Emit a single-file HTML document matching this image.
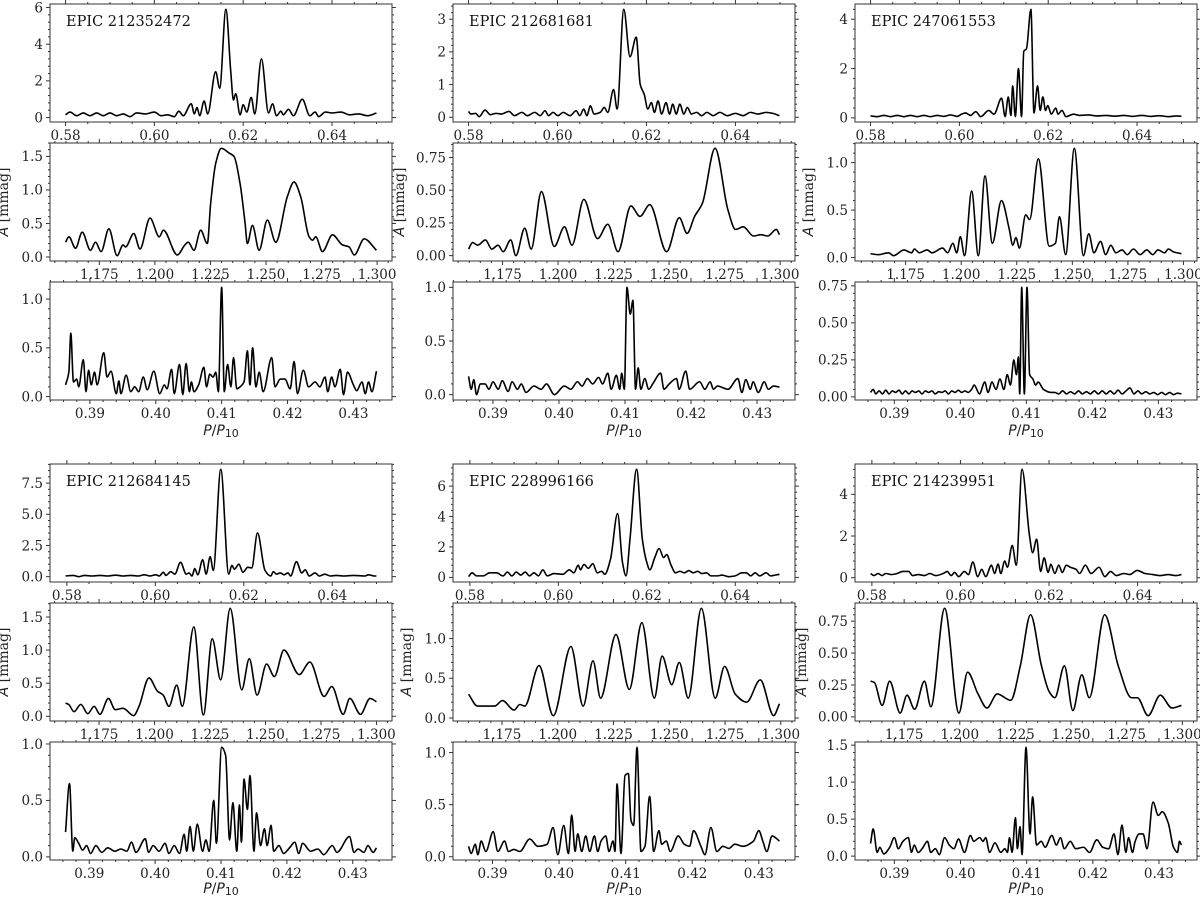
<!DOCTYPE html>
<html><head><meta charset="utf-8"><title>Periodogram panels</title>
<style>
html,body{margin:0;padding:0;background:#fff;}
svg{display:block;}
.tk{font-family:"DejaVu Serif","Liberation Serif",serif;font-size:13.5px;fill:#222;}
.ep{font-family:"DejaVu Serif","Liberation Serif",serif;font-size:14.5px;fill:#111;}
.al{font-family:"DejaVu Sans","Liberation Sans",sans-serif;font-size:14px;fill:#222;}
</style></head>
<body>
<svg id="fig" width="1200" height="897" viewBox="0 0 1200 897" xmlns="http://www.w3.org/2000/svg"></svg>
<script>
// ---------- data: x = P/P10, y = amplitude [mmag] ----------
const a1_x=[0.5800,0.5810,0.5825,0.5840,0.5855,0.5870,0.5885,0.5900,0.5915,0.5930,0.5945,0.5960,0.5980,0.6000,0.6015,0.6030,0.6045,0.6055,0.6065,0.6083,0.6090,0.6096,0.6102,0.6112,0.6120,0.6138,0.6147,0.6161,0.6172,0.6178,0.6183,0.6193,0.6200,0.6208,0.6218,0.6226,0.6241,0.6257,0.6266,0.6275,0.6285,0.6290,0.6302,0.6313,0.6333,0.6350,0.6362,0.6370,0.6385,0.6400,0.6420,0.6440,0.6460,0.6480,0.6500];
const a1_y=[0.15,0.3,0.1,0.25,0.1,0.25,0.1,0.25,0.1,0.2,0.05,0.25,0.2,0.3,0.1,0.15,0.05,0.35,0.1,0.75,0.2,0.55,0.1,0.9,0.2,2.5,1.6,5.9,2.5,0.95,1.3,0.15,0.7,0.3,1.1,0.2,3.2,0.25,0.75,0.1,0.35,0.15,0.45,0.1,1.0,0.1,0.3,0.05,0.3,0.25,0.3,0.15,0.2,0.1,0.25];
const a2_x=[1.1598,1.1613,1.1643,1.1673,1.1710,1.1733,1.1758,1.1793,1.1830,1.1857,1.1868,1.1905,1.1933,1.1978,1.2020,1.2038,1.2101,1.2135,1.2150,1.2176,1.2206,1.2236,1.2251,1.2274,1.2299,1.2334,1.2356,1.2383,1.2406,1.2416,1.2439,1.2469,1.2506,1.2544,1.2596,1.2626,1.2656,1.2694,1.2709,1.2724,1.2754,1.2799,1.2844,1.2874,1.2897,1.2942,1.2997];
const a2_y=[0.22,0.3,0.13,0.37,0.1,0.22,0.08,0.42,0.02,0.18,0.15,0.35,0.12,0.58,0.3,0.4,0.03,0.18,0.22,0.1,0.4,0.2,0.8,1.4,1.62,1.55,1.5,1.1,0.5,0.2,0.47,0.1,0.55,0.22,0.9,1.12,0.9,0.3,0.25,0.3,0.08,0.33,0.18,0.15,0.03,0.27,0.1];
const a3_x=[0.3863,0.3868,0.3871,0.3875,0.3880,0.3883,0.3890,0.3894,0.3898,0.3902,0.3907,0.3911,0.3921,0.3926,0.3932,0.3940,0.3944,0.3947,0.3955,0.3962,0.3968,0.3974,0.3981,0.3987,0.3997,0.4006,0.4013,0.4017,0.4024,0.4028,0.4036,0.4041,0.4046,0.4051,0.4054,0.4058,0.4065,0.4073,0.4077,0.4082,0.4087,0.4091,0.4095,0.4100,0.4104,0.4109,0.4114,0.4118,0.4123,0.4128,0.4134,0.4139,0.4143,0.4147,0.4152,0.4157,0.4163,0.4176,0.4181,0.4189,0.4196,0.4204,0.4210,0.4215,0.4224,0.4232,0.4242,0.4249,0.4257,0.4261,0.4267,0.4272,0.4280,0.4285,0.4291,0.4300,0.4305,0.4313,0.4318,0.4323,0.4328,0.4335];
const a3_y=[0.12,0.25,0.65,0.15,0.18,0.1,0.38,0.05,0.27,0.12,0.25,0.12,0.45,0.2,0.26,0.03,0.16,0.03,0.22,0.05,0.1,0.05,0.2,0.07,0.26,0.03,0.12,0.08,0.28,0.03,0.33,0.02,0.34,0.05,0.15,0.05,0.12,0.3,0.1,0.23,0.2,0.25,0.05,1.12,0.05,0.33,0.1,0.4,0.08,0.1,0.15,0.47,0.12,0.5,0.1,0.25,0.05,0.4,0.1,0.18,0.18,0.08,0.36,0.03,0.27,0.1,0.15,0.1,0.2,0.05,0.2,0.1,0.28,0.02,0.25,0.12,0.06,0.15,0.03,0.15,0.05,0.26];
const b1_x=[0.5800,0.5805,0.5816,0.5824,0.5837,0.5849,0.5862,0.5874,0.5891,0.5903,0.5920,0.5932,0.5949,0.5961,0.5972,0.5980,0.5990,0.6001,0.6013,0.6028,0.6042,0.6050,0.6059,0.6066,0.6074,0.6082,0.6096,0.6105,0.6113,0.6126,0.6134,0.6149,0.6163,0.6177,0.6186,0.6195,0.6203,0.6211,0.6218,0.6226,0.6234,0.6244,0.6252,0.6259,0.6267,0.6275,0.6284,0.6292,0.6301,0.6313,0.6324,0.6336,0.6350,0.6365,0.6382,0.6400,0.6417,0.6434,0.6451,0.6469,0.6484,0.6499];
const b1_y=[0.18,0.1,0.12,0.02,0.22,0.08,0.12,0.1,0.18,0.05,0.15,0.05,0.15,0.05,0.2,0.05,0.15,0.05,0.15,0.05,0.2,0.05,0.25,0.05,0.35,0.1,0.15,0.3,0.15,0.85,0.25,3.3,1.85,2.45,1.0,0.7,0.25,0.45,0.15,0.5,0.1,0.45,0.1,0.4,0.1,0.4,0.1,0.3,0.1,0.15,0.05,0.15,0.05,0.15,0.05,0.12,0.05,0.15,0.1,0.15,0.12,0.05];
const b2_x=[1.1597,1.1615,1.1638,1.1673,1.1702,1.1730,1.1753,1.1787,1.1810,1.1850,1.1879,1.1925,1.1983,1.2029,1.2063,1.2116,1.2178,1.2224,1.2270,1.2328,1.2369,1.2413,1.2489,1.2546,1.2581,1.2615,1.2650,1.2707,1.2765,1.2799,1.2834,1.2880,1.2914,1.2944,1.2983,1.2997];
const b2_y=[0.05,0.1,0.08,0.12,0.05,0.08,0.03,0.12,0.0,0.21,0.05,0.49,0.07,0.22,0.08,0.43,0.13,0.24,0.03,0.38,0.3,0.39,0.03,0.29,0.17,0.3,0.4,0.82,0.35,0.2,0.22,0.15,0.16,0.15,0.2,0.16];
const b3_x=[0.3863,0.3867,0.3871,0.3875,0.3881,0.3888,0.3894,0.3900,0.3908,0.3914,0.3923,0.3929,0.3937,0.3943,0.3950,0.3962,0.3973,0.3981,0.3993,0.4008,0.4018,0.4028,0.4035,0.4043,0.4051,0.4060,0.4066,0.4074,0.4079,0.4087,0.4092,0.4095,0.4099,0.4103,0.4108,0.4112,0.4116,0.4120,0.4124,0.4130,0.4136,0.4142,0.4154,0.4159,0.4167,0.4178,0.4182,0.4192,0.4198,0.4213,0.4221,0.4229,0.4234,0.4240,0.4256,0.4271,0.4277,0.4283,0.4290,0.4294,0.4302,0.4311,0.4317,0.4325,0.4334];
const b3_y=[0.17,0.05,0.14,0.0,0.1,0.1,0.05,0.12,0.05,0.13,0.03,0.12,0.05,0.1,0.02,0.08,0.05,0.1,0.0,0.08,0.05,0.12,0.08,0.15,0.1,0.16,0.1,0.2,0.05,0.18,0.05,0.2,0.05,1.0,0.75,0.88,0.05,0.25,0.05,0.15,0.05,0.1,0.2,0.05,0.1,0.15,0.05,0.22,0.05,0.12,0.05,0.12,0.05,0.08,0.05,0.15,0.02,0.14,0.05,0.12,0.02,0.12,0.05,0.08,0.07];
const c1_x=[0.5800,0.5815,0.5830,0.5845,0.5860,0.5875,0.5890,0.5905,0.5920,0.5935,0.5950,0.5965,0.5980,0.5995,0.6005,0.6014,0.6025,0.6037,0.6048,0.6066,0.6078,0.6095,0.6103,0.6110,0.6116,0.6120,0.6126,0.6133,0.6140,0.6145,0.6151,0.6161,0.6168,0.6176,0.6182,0.6188,0.6194,0.6199,0.6207,0.6217,0.6222,0.6231,0.6240,0.6257,0.6270,0.6290,0.6310,0.6330,0.6350,0.6370,0.6390,0.6410,0.6430,0.6450,0.6470,0.6490,0.6500];
const c1_y=[0.08,0.05,0.1,0.05,0.1,0.05,0.1,0.05,0.1,0.05,0.1,0.06,0.12,0.06,0.15,0.2,0.1,0.25,0.05,0.3,0.15,0.8,0.05,0.85,0.1,1.3,0.05,2.0,0.05,2.7,2.8,4.4,0.2,1.3,0.3,0.85,0.3,0.5,0.15,0.4,0.15,0.3,0.05,0.15,0.1,0.12,0.08,0.1,0.07,0.1,0.06,0.1,0.06,0.09,0.05,0.08,0.06];
const c2_x=[1.1592,1.1627,1.1673,1.1696,1.1742,1.1777,1.1789,1.1812,1.1846,1.1869,1.1916,1.1939,1.1962,1.1980,1.1996,1.2015,1.2047,1.2077,1.2107,1.2140,1.2181,1.2216,1.2232,1.2246,1.2262,1.2290,1.2308,1.2347,1.2396,1.2424,1.2442,1.2470,1.2509,1.2550,1.2574,1.2597,1.2627,1.2650,1.2673,1.2696,1.2724,1.2747,1.2775,1.2805,1.2835,1.2862,1.2885,1.2915,1.2932,1.2955,1.2991];
const c2_y=[0.04,0.03,0.05,0.02,0.08,0.05,0.09,0.05,0.08,0.05,0.1,0.05,0.15,0.05,0.22,0.02,0.7,0.02,0.86,0.15,0.6,0.3,0.13,0.21,0.1,0.45,0.4,1.04,0.12,0.15,0.43,0.03,1.15,0.02,0.25,0.05,0.17,0.03,0.13,0.05,0.08,0.03,0.09,0.03,0.08,0.03,0.08,0.05,0.09,0.06,0.04];
const c3_x=[0.3864,0.3868,0.3872,0.3877,0.3882,0.3887,0.3892,0.3897,0.3902,0.3907,0.3912,0.3917,0.3922,0.3927,0.3932,0.3937,0.3942,0.3947,0.3952,0.3957,0.3962,0.3967,0.3972,0.3977,0.3982,0.3987,0.3992,0.3997,0.4002,0.4007,0.4012,0.4017,0.4021,0.4029,0.4037,0.4042,0.4048,0.4054,0.4060,0.4066,0.4071,0.4076,0.4081,0.4085,0.4088,0.4090,0.4093,0.4097,0.4101,0.4105,0.4110,0.4114,0.4118,0.4126,0.4137,0.4143,0.4149,0.4155,0.4161,0.4167,0.4173,0.4179,0.4185,0.4191,0.4197,0.4203,0.4209,0.4215,0.4221,0.4227,0.4233,0.4239,0.4245,0.4251,0.4257,0.4263,0.4269,0.4275,0.4281,0.4287,0.4293,0.4299,0.4305,0.4311,0.4317,0.4323,0.4329,0.4335];
const c3_y=[0.03,0.05,0.02,0.04,0.02,0.045,0.02,0.04,0.03,0.045,0.02,0.04,0.02,0.04,0.03,0.04,0.02,0.04,0.03,0.04,0.02,0.035,0.03,0.04,0.02,0.04,0.03,0.045,0.03,0.04,0.03,0.05,0.08,0.02,0.1,0.03,0.1,0.05,0.12,0.05,0.15,0.08,0.25,0.15,0.27,0.02,0.74,0.02,0.74,0.15,0.12,0.08,0.1,0.05,0.03,0.03,0.02,0.04,0.02,0.035,0.02,0.04,0.02,0.035,0.02,0.04,0.02,0.04,0.02,0.04,0.02,0.045,0.02,0.04,0.06,0.02,0.04,0.02,0.035,0.02,0.03,0.015,0.03,0.015,0.03,0.015,0.025,0.02];
const d1_x=[0.5797,0.5814,0.5827,0.5840,0.5857,0.5875,0.5892,0.5910,0.5927,0.5944,0.5962,0.5975,0.5988,0.6001,0.6009,0.6018,0.6024,0.6035,0.6044,0.6057,0.6070,0.6076,0.6083,0.6089,0.6096,0.6107,0.6115,0.6124,0.6131,0.6148,0.6166,0.6173,0.6179,0.6189,0.6198,0.6209,0.6218,0.6231,0.6248,0.6261,0.6267,0.6274,0.6283,0.6291,0.6300,0.6306,0.6319,0.6331,0.6339,0.6348,0.6361,0.6371,0.6383,0.6396,0.6409,0.6426,0.6448,0.6474,0.6482,0.6495,0.6500];
const d1_y=[0.05,0.1,0.0,0.1,0.05,0.1,0.05,0.12,0.05,0.1,0.05,0.15,0.05,0.15,0.05,0.35,0.1,0.4,0.2,1.15,0.2,0.3,0.05,0.65,0.15,1.35,0.2,1.6,0.5,8.6,0.2,0.9,0.6,1.0,0.35,0.75,0.7,3.5,0.5,0.05,0.4,0.2,0.3,0.15,0.3,0.05,1.2,0.3,0.55,0.05,0.3,0.05,0.2,0.05,0.1,0.05,0.1,0.05,0.15,0.05,0.05];
const d2_x=[1.1599,1.1613,1.1637,1.1668,1.1699,1.1728,1.1754,1.1792,1.1823,1.1858,1.1906,1.1930,1.1975,1.2013,1.2039,1.2065,1.2100,1.2125,1.2177,1.2220,1.2260,1.2298,1.2341,1.2393,1.2427,1.2462,1.2505,1.2540,1.2583,1.2652,1.2700,1.2764,1.2799,1.2850,1.2880,1.2928,1.2971,1.3000];
const d2_y=[0.2,0.18,0.07,0.18,0.04,0.15,0.03,0.27,0.1,0.12,0.01,0.15,0.58,0.38,0.32,0.15,0.47,0.15,1.35,0.02,1.17,0.55,1.63,0.4,0.87,0.32,0.79,0.6,1.0,0.63,0.82,0.3,0.45,0.03,0.27,0.03,0.27,0.22];
const d3_x=[0.3864,0.3870,0.3875,0.3878,0.3884,0.3890,0.3896,0.3902,0.3910,0.3919,0.3928,0.3939,0.3948,0.3957,0.3964,0.3971,0.3985,0.3990,0.3997,0.4006,0.4015,0.4021,0.4029,0.4037,0.4044,0.4048,0.4053,0.4058,0.4064,0.4072,0.4077,0.4082,0.4089,0.4093,0.4101,0.4107,0.4113,0.4118,0.4124,0.4128,0.4131,0.4135,0.4140,0.4144,0.4150,0.4154,0.4160,0.4166,0.4170,0.4176,0.4180,0.4188,0.4195,0.4204,0.4212,0.4218,0.4224,0.4236,0.4247,0.4256,0.4269,0.4276,0.4295,0.4302,0.4308,0.4317,0.4323,0.4331,0.4336];
const d3_y=[0.22,0.65,0.05,0.17,0.12,0.06,0.1,0.03,0.1,0.04,0.08,0.05,0.07,0.05,0.13,0.04,0.16,0.04,0.1,0.05,0.12,0.03,0.1,0.03,0.2,0.05,0.27,0.05,0.29,0.05,0.15,0.05,0.5,0.12,0.97,0.9,0.15,0.48,0.05,0.46,0.13,0.69,0.42,0.72,0.05,0.39,0.1,0.25,0.1,0.28,0.05,0.1,0.03,0.08,0.13,0.03,0.12,0.05,0.07,0.02,0.1,0.04,0.18,0.04,0.07,0.04,0.1,0.04,0.08];
const e1_x=[0.5797,0.5805,0.5815,0.5830,0.5845,0.5860,0.5875,0.5885,0.5895,0.5905,0.5915,0.5925,0.5935,0.5945,0.5955,0.5965,0.5975,0.5990,0.6010,0.6025,0.6035,0.6045,0.6050,0.6058,0.6068,0.6078,0.6088,0.6098,0.6105,0.6118,0.6134,0.6145,0.6153,0.6162,0.6177,0.6190,0.6199,0.6207,0.6218,0.6228,0.6238,0.6245,0.6255,0.6265,0.6275,0.6285,0.6295,0.6305,0.6315,0.6325,0.6335,0.6345,0.6360,0.6370,0.6385,0.6400,0.6415,0.6425,0.6435,0.6445,0.6455,0.6470,0.6480,0.6490,0.6500];
const e1_y=[0.05,0.3,0.1,0.1,0.3,0.3,0.1,0.35,0.1,0.35,0.15,0.35,0.1,0.3,0.1,0.5,0.1,0.25,0.2,0.5,0.3,0.8,0.5,0.85,0.6,0.9,0.3,0.4,0.2,1.2,4.2,1.0,0.1,2.5,7.1,2.5,1.1,0.5,1.3,1.9,1.3,1.5,0.8,0.3,0.4,0.3,0.45,0.3,0.4,0.25,0.3,0.1,0.1,0.15,0.05,0.1,0.3,0.3,0.1,0.3,0.1,0.3,0.1,0.15,0.2];
const e2_x=[1.1600,1.1640,1.1683,1.1717,1.1752,1.1804,1.1830,1.1852,1.1916,1.1980,1.2059,1.2114,1.2158,1.2192,1.2261,1.2321,1.2377,1.2433,1.2468,1.2511,1.2545,1.2585,1.2644,1.2706,1.2748,1.2796,1.2847,1.2908,1.2968,1.2994];
const e2_y=[0.3,0.15,0.15,0.15,0.22,0.1,0.17,0.15,0.66,0.03,0.9,0.15,0.72,0.25,1.05,0.36,1.2,0.25,0.78,0.42,0.7,0.25,1.38,0.25,0.65,0.3,0.2,0.48,0.03,0.18];
const e3_x=[0.3864,0.3868,0.3874,0.3878,0.3883,0.3890,0.3901,0.3908,0.3918,0.3924,0.3932,0.3941,0.3956,0.3968,0.3982,0.3991,0.3998,0.4007,0.4014,0.4019,0.4024,0.4028,0.4034,0.4040,0.4046,0.4053,0.4058,0.4063,0.4070,0.4075,0.4081,0.4084,0.4087,0.4093,0.4099,0.4104,0.4108,0.4112,0.4117,0.4123,0.4129,0.4136,0.4142,0.4150,0.4154,0.4161,0.4167,0.4179,0.4188,0.4196,0.4202,0.4213,0.4219,0.4228,0.4237,0.4246,0.4255,0.4264,0.4276,0.4292,0.4300,0.4306,0.4312,0.4320,0.4331];
const e3_y=[0.1,0.03,0.12,0.02,0.15,0.05,0.24,0.05,0.15,0.05,0.07,0.05,0.17,0.1,0.12,0.28,0.02,0.3,0.03,0.4,0.05,0.22,0.05,0.2,0.05,0.2,0.05,0.15,0.2,0.05,0.15,0.05,0.7,0.03,0.78,0.8,0.35,0.3,1.05,0.05,0.1,0.58,0.05,0.25,0.12,0.15,0.05,0.2,0.12,0.1,0.25,0.1,0.02,0.28,0.05,0.1,0.08,0.12,0.1,0.15,0.25,0.15,0.05,0.2,0.15];
const f1_x=[0.5797,0.5805,0.5814,0.5823,0.5831,0.5844,0.5857,0.5870,0.5883,0.5892,0.5905,0.5918,0.5931,0.5944,0.5961,0.5970,0.5979,0.5987,0.5996,0.6009,0.6018,0.6028,0.6039,0.6048,0.6057,0.6070,0.6077,0.6085,0.6091,0.6100,0.6106,0.6117,0.6126,0.6139,0.6156,0.6163,0.6172,0.6181,0.6189,0.6198,0.6204,0.6213,0.6222,0.6230,0.6239,0.6248,0.6261,0.6269,0.6282,0.6295,0.6313,0.6326,0.6339,0.6352,0.6369,0.6382,0.6399,0.6417,0.6434,0.6451,0.6469,0.6486,0.6499];
const f1_y=[0.2,0.1,0.2,0.1,0.2,0.15,0.2,0.3,0.3,0.1,0.15,0.1,0.2,0.1,0.2,0.3,0.1,0.25,0.05,0.3,0.15,0.75,0.05,0.4,0.05,0.6,0.2,0.65,0.2,0.8,0.5,1.55,0.6,5.2,2.0,1.2,1.85,0.3,0.95,0.25,0.65,0.2,0.6,0.25,0.6,0.5,0.4,0.2,0.6,0.2,0.5,0.05,0.3,0.1,0.2,0.15,0.35,0.2,0.15,0.1,0.15,0.1,0.15];
const f2_x=[1.1599,1.1616,1.1651,1.1685,1.1732,1.1763,1.1797,1.1841,1.1870,1.1932,1.1996,1.2035,1.2082,1.2122,1.2168,1.2229,1.2272,1.2318,1.2367,1.2401,1.2427,1.2470,1.2508,1.2548,1.2582,1.2651,1.2712,1.2772,1.2798,1.2846,1.2901,1.2953,1.2996];
const f2_y=[0.28,0.27,0.09,0.28,0.03,0.17,0.06,0.28,0.08,0.85,0.03,0.35,0.18,0.07,0.18,0.13,0.4,0.8,0.4,0.2,0.15,0.4,0.05,0.33,0.15,0.8,0.4,0.15,0.15,0.01,0.17,0.07,0.09];
const f3_x=[0.3864,0.3868,0.3874,0.3878,0.3884,0.3893,0.3900,0.3906,0.3913,0.3921,0.3926,0.3930,0.3936,0.3942,0.3950,0.3955,0.3962,0.3968,0.3976,0.3983,0.3990,0.3997,0.4006,0.4015,0.4020,0.4029,0.4034,0.4038,0.4044,0.4052,0.4061,0.4067,0.4071,0.4074,0.4078,0.4083,0.4086,0.4090,0.4093,0.4099,0.4105,0.4109,0.4115,0.4122,0.4128,0.4138,0.4145,0.4151,0.4157,0.4166,0.4174,0.4186,0.4195,0.4206,0.4215,0.4224,0.4232,0.4238,0.4244,0.4250,0.4254,0.4260,0.4264,0.4270,0.4276,0.4282,0.4291,0.4299,0.4305,0.4314,0.4322,0.4328,0.4331,0.4334];
const f3_y=[0.17,0.37,0.05,0.12,0.03,0.12,0.25,0.1,0.2,0.25,0.05,0.15,0.05,0.1,0.2,0.05,0.1,0.02,0.25,0.15,0.1,0.23,0.05,0.28,0.2,0.25,0.2,0.25,0.05,0.18,0.05,0.1,0.05,0.25,0.05,0.52,0.1,0.4,0.02,1.47,0.3,0.8,0.15,0.2,0.12,0.28,0.15,0.25,0.1,0.2,0.1,0.12,0.05,0.22,0.12,0.1,0.3,0.02,0.42,0.05,0.25,0.05,0.2,0.3,0.3,0.1,0.73,0.55,0.6,0.45,0.12,0.05,0.2,0.15];

// tick values / labels
const topXTicks=[0.58,0.60,0.62,0.64];
const midXTicks=[1.175,1.200,1.225,1.250,1.275,1.300];
const botXTicks=[0.39,0.40,0.41,0.42,0.43];
const starNames=["EPIC 212352472","EPIC 212681681","EPIC 247061553","EPIC 212684145","EPIC 228996166","EPIC 214239951"];

// ---------- layout (not data) ----------
const colX=[50,453,855], boxW=342, boxH=118;
const rowY=[[4,143,282],[464,603,742]];
const xTitleOffset=[35,33];
const panels=[
 {id:'a1',x:a1_x,y:a1_y,yt:[0,2,4,6],yd:0,row:0,col:0,k:0},
 {id:'a2',x:a2_x,y:a2_y,yt:[0,0.5,1,1.5],yd:1,row:0,col:0,k:1},
 {id:'a3',x:a3_x,y:a3_y,yt:[0,0.5,1],yd:1,row:0,col:0,k:2},
 {id:'b1',x:b1_x,y:b1_y,yt:[0,1,2,3],yd:0,row:0,col:1,k:0},
 {id:'b2',x:b2_x,y:b2_y,yt:[0,0.25,0.5,0.75],yd:2,row:0,col:1,k:1},
 {id:'b3',x:b3_x,y:b3_y,yt:[0,0.5,1],yd:1,row:0,col:1,k:2},
 {id:'c1',x:c1_x,y:c1_y,yt:[0,2,4],yd:0,row:0,col:2,k:0},
 {id:'c2',x:c2_x,y:c2_y,yt:[0,0.5,1],yd:1,row:0,col:2,k:1},
 {id:'c3',x:c3_x,y:c3_y,yt:[0,0.25,0.5,0.75],yd:2,row:0,col:2,k:2},
 {id:'d1',x:d1_x,y:d1_y,yt:[0,2.5,5,7.5],yd:1,row:1,col:0,k:0},
 {id:'d2',x:d2_x,y:d2_y,yt:[0,0.5,1,1.5],yd:1,row:1,col:0,k:1},
 {id:'d3',x:d3_x,y:d3_y,yt:[0,0.5,1],yd:1,row:1,col:0,k:2},
 {id:'e1',x:e1_x,y:e1_y,yt:[0,2,4,6],yd:0,row:1,col:1,k:0},
 {id:'e2',x:e2_x,y:e2_y,yt:[0,0.5,1],yd:1,row:1,col:1,k:1},
 {id:'e3',x:e3_x,y:e3_y,yt:[0,0.5,1],yd:1,row:1,col:1,k:2},
 {id:'f1',x:f1_x,y:f1_y,yt:[0,2,4],yd:0,row:1,col:2,k:0},
 {id:'f2',x:f2_x,y:f2_y,yt:[0,0.25,0.5,0.75],yd:2,row:1,col:2,k:1},
 {id:'f3',x:f3_x,y:f3_y,yt:[0,0.5,1,1.5],yd:1,row:1,col:2,k:2}
];
const xTickSets=[topXTicks,midXTicks,botXTicks];
const xDec=[2,3,2];
const xMinorDiv=[4,5,5];

const NS='http://www.w3.org/2000/svg';
const svg=document.getElementById('fig');
function mk(tag,attrs,parent){const e=document.createElementNS(NS,tag);for(const k in attrs)e.setAttribute(k,attrs[k]);(parent||svg).appendChild(e);return e;}

function monoPath(P){
  const n=P.length; if(n<2)return '';
  const m=[],t=[];
  for(let i=0;i<n-1;i++){const dx=P[i+1][0]-P[i][0];m.push(dx===0?0:(P[i+1][1]-P[i][1])/dx);}
  t[0]=m[0];t[n-1]=m[n-2];
  for(let i=1;i<n-1;i++){
    const h0=P[i][0]-P[i-1][0],h1=P[i+1][0]-P[i][0];
    if(m[i-1]*m[i]<=0)t[i]=0;
    else t[i]=3*(h0+h1)/((2*h1+h0)/m[i-1]+(h1+2*h0)/m[i]);
  }
  let d='M'+P[0][0].toFixed(2)+','+P[0][1].toFixed(2);
  for(let i=0;i<n-1;i++){
    const h=(P[i+1][0]-P[i][0])/3;
    d+='C'+(P[i][0]+h).toFixed(2)+','+(P[i][1]+t[i]*h).toFixed(2)+' '+(P[i+1][0]-h).toFixed(2)+','+(P[i+1][1]-t[i+1]*h).toFixed(2)+' '+P[i+1][0].toFixed(2)+','+P[i+1][1].toFixed(2);
  }
  return d;
}

panels.forEach(p=>{
  const bx=colX[p.col], by=rowY[p.row][p.k];
  const g=mk('g',{});
  
  
  const xmin=Math.min(...p.x),xmax=Math.max(...p.x),ymin=Math.min(...p.y),ymax=Math.max(...p.y);
  const xlo=xmin-0.05*(xmax-xmin),xhi=xmax+0.05*(xmax-xmin);
  const ylo=ymin-0.05*(ymax-ymin),yhi=ymax+0.05*(ymax-ymin);
  const sx=v=>bx+(v-xlo)/(xhi-xlo)*boxW;
  const sy=v=>by+boxH-(v-ylo)/(yhi-ylo)*boxH;
  const tickG=mk('g',{stroke:'#333','stroke-width':1},g);
  
  
  const xt=xTickSets[p.k];
  const xstep=xt[1]-xt[0], xms=xstep/xMinorDiv[p.k];
  for(let v=Math.ceil(xlo/xms)*xms;v<=xhi+1e-9;v+=xms){
    const X=sx(v);const major=xt.some(t=>Math.abs(t-v)<xms/10);const L=major?4:2;
    mk('line',{x1:X,x2:X,y1:by+boxH,y2:by+boxH+L},tickG);
    mk('line',{x1:X,x2:X,y1:by,y2:by-L},tickG);
  }
  const ystep=p.yt[1]-p.yt[0], yms=ystep/5;
  for(let v=Math.ceil(ylo/yms)*yms;v<=yhi+1e-9;v+=yms){
    const Y=sy(v);const major=p.yt.some(t=>Math.abs(t-v)<yms/10);const L=major?4:2;
    mk('line',{x1:bx,x2:bx-L,y1:Y,y2:Y},tickG);
    mk('line',{x1:bx+boxW,x2:bx+boxW+L,y1:Y,y2:Y},tickG);
  }
  xt.forEach(v=>{
    const tx=mk('text',{x:sx(v),y:by+boxH+18,'text-anchor':'middle',class:'tk'},g);
    
    
    tx.textContent=v.toFixed(xDec[p.k]);
  });
  p.yt.forEach(v=>{
    const ty=mk('text',{x:bx-7,y:sy(v)+4.8,'text-anchor':'end',class:'tk'},g);
    
    
    ty.textContent=v.toFixed(p.yd);
  });
  const pts=p.x.map((v,i)=>[sx(v),sy(p.y[i])]);
  const path=mk('path',{d:monoPath(pts),fill:'none',stroke:'#000','stroke-width':1.6,'stroke-linejoin':'round'},g);
  
  
  const fr=mk('rect',{x:bx,y:by,width:boxW,height:boxH,fill:'none',stroke:'#333','stroke-width':1},g);
  
  
  if(p.k===0){
    const ep=mk('text',{x:bx+16,y:by+22,class:'ep'},g);
    
    
    ep.textContent=starNames[p.row*3+p.col];
  }
  if(p.k===1){
    const wide=p.yd===2;
    const lx=bx-(wide?49:42), ly=by+boxH/2;
    const yl=mk('text',{x:lx,y:ly,'text-anchor':'middle',transform:'rotate(-90 '+lx+' '+ly+')',class:'al'},g);
    
    
    const s1=mk('tspan',{'font-style':'italic'},yl);s1.textContent='A';
    const s2=mk('tspan',{'font-family':'DejaVu Serif, serif'},yl);s2.textContent=' [mmag]';
  }
  if(p.k===2){
    const lx=bx+boxW/2, ly=by+boxH+xTitleOffset[p.row];
    const xl=mk('text',{x:lx,y:ly,'text-anchor':'middle',class:'al'},g);
    
    
    const s1=mk('tspan',{'font-style':'italic'},xl);s1.textContent='P';
    const s2=mk('tspan',{},xl);s2.textContent='/';
    const s3=mk('tspan',{'font-style':'italic'},xl);s3.textContent='P';
    const s4=mk('tspan',{'font-size':'11px',dy:'2'},xl);s4.textContent='10';
  }
});
</script>
</body></html>
